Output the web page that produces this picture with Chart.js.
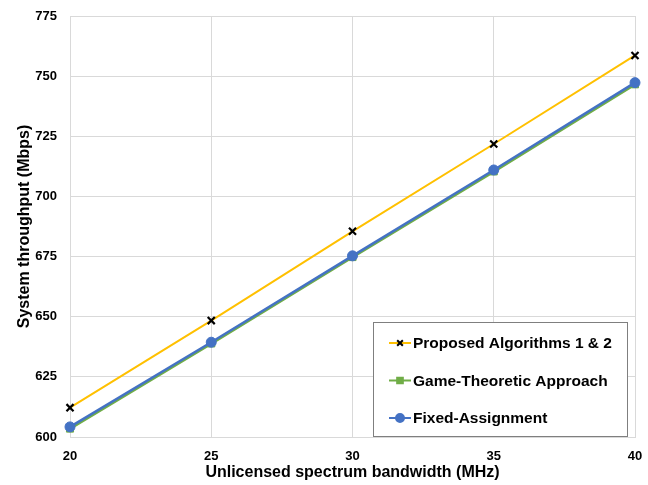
<!DOCTYPE html>
<html>
<head>
<meta charset="utf-8">
<script src="https://cdn.jsdelivr.net/npm/chart.js@4/dist/chart.umd.min.js"></script>
<style>
  body { margin: 0; background: #fff; }
  #wrap { width: 648px; height: 485px; }
</style>
</head>
<body>
<div id="wrap"><canvas id="chart"></canvas></div>
<script>
const bandwidth = [20, 25, 30, 35, 40];
const proposed = [612.2, 648.4, 685.5, 721.8, 758.6];
const gameTheoretic = [603.5, 638.9, 674.8, 710.4, 746.6];
const fixedAssign = [604.2, 639.4, 675.3, 711.0, 747.3];
const seriesNames = ['Proposed Algorithms 1 & 2', 'Game-Theoretic Approach', 'Fixed-Assignment'];

const FONT = '"Liberation Sans", Arial, sans-serif';

function points(values) {
  return bandwidth.map((b, i) => ({ x: b, y: values[i] }));
}

// legend box drawn inside the plot area, bottom right
const insideLegend = {
  id: 'insideLegend',
  afterDraw(chart) {
    const ctx = chart.ctx;
    const area = chart.chartArea;
    const w = 254, h = 114;
    const left = area.right - 8 - w;
    const top = area.bottom - 1 - h;
    ctx.save();
    ctx.fillStyle = '#fff';
    ctx.fillRect(left, top, w, h);
    ctx.strokeStyle = '#7f7f7f';
    ctx.lineWidth = 1;
    ctx.strokeRect(left + 0.5, top + 0.5, w, h);
    chart.data.datasets.forEach((ds, i) => {
      const y = top + 21 + i * 37.5;
      const x0 = left + 16;
      ctx.strokeStyle = ds.borderColor;
      ctx.lineWidth = 2;
      ctx.beginPath();
      ctx.moveTo(x0, y);
      ctx.lineTo(x0 + 22, y);
      ctx.stroke();
      ctx.fillStyle = ds.pointBackgroundColor;
      ctx.strokeStyle = ds.pointBorderColor;
      Chart.helpers.drawPoint(ctx, {
        pointStyle: ds.pointStyle,
        radius: ds.pointRadius * 0.8,
        borderWidth: ds.pointBorderWidth
      }, x0 + 11, y);
      ctx.fillStyle = '#000';
      ctx.font = 'bold 15.5px ' + FONT;
      ctx.textBaseline = 'middle';
      ctx.fillText(ds.label, x0 + 24, y + 1);
    });
    ctx.restore();
  }
};

new Chart(document.getElementById('chart'), {
  type: 'line',
  data: {
    datasets: [
      {
        label: seriesNames[0],
        data: points(proposed),
        borderColor: '#ffc000',
        borderWidth: 2,
        pointStyle: 'crossRot',
        pointRadius: 5,
        pointBorderWidth: 2.2,
        pointBorderColor: '#000',
        pointBackgroundColor: '#000',
        clip: false,
        order: 3
      },
      {
        label: seriesNames[1],
        data: points(gameTheoretic),
        borderColor: '#70ad47',
        borderWidth: 3,
        pointStyle: 'rect',
        pointRadius: 5,
        pointBorderWidth: 1,
        pointBorderColor: '#70ad47',
        pointBackgroundColor: '#70ad47',
        clip: false,
        order: 2
      },
      {
        label: seriesNames[2],
        data: points(fixedAssign),
        borderColor: '#4472c4',
        borderWidth: 2.5,
        pointStyle: 'circle',
        pointRadius: 5,
        pointBorderWidth: 1,
        pointBorderColor: '#4472c4',
        pointBackgroundColor: '#4472c4',
        clip: false,
        order: 1
      }
    ]
  },
  options: {
    responsive: true,
    maintainAspectRatio: false,
    animation: false,
    layout: { padding: { top: 16, right: 13, bottom: 0, left: 0 } },
    plugins: {
      legend: { display: false },
      tooltip: { enabled: false }
    },
    scales: {
      x: {
        type: 'linear',
        min: 20,
        max: 40,
        ticks: { stepSize: 5, color: '#000', font: { family: FONT, size: 13, weight: 'bold' }, padding: 12 },
        grid: { color: '#d9d9d9', tickLength: 0 },
        border: { color: '#d9d9d9' },
        title: { display: true, text: 'Unlicensed spectrum bandwidth (MHz)', color: '#000', font: { family: FONT, size: 16, weight: 'bold' }, padding: { top: 0, bottom: 3 } },
        afterFit(scale) {
          scale.height = 48;
          scale.paddingLeft = 0;
          scale.paddingRight = 0;
        }
      },
      y: {
        min: 600,
        max: 775,
        ticks: { stepSize: 25, color: '#000', font: { family: FONT, size: 13, weight: 'bold' }, padding: 13 },
        grid: { color: '#d9d9d9', tickLength: 0 },
        border: { color: '#d9d9d9' },
        title: { display: true, text: 'System throughput (Mbps)', color: '#000', font: { family: FONT, size: 16, weight: 'bold' }, padding: { top: 15, bottom: 0 } },
        afterFit(scale) {
          scale.width = 70;
          scale.paddingTop = 0;
          scale.paddingBottom = 0;
        }
      }
    }
  },
  plugins: [insideLegend]
});
</script>
</body>
</html>
